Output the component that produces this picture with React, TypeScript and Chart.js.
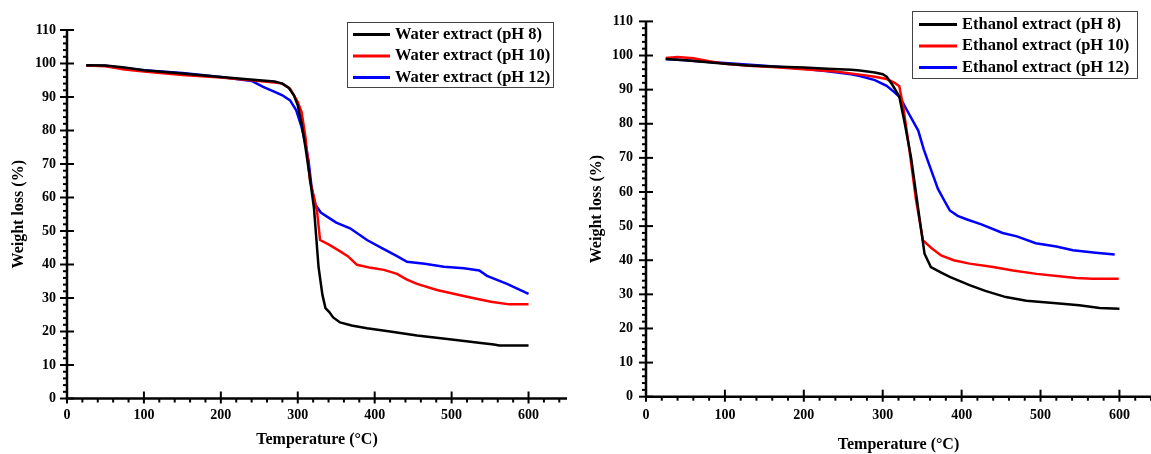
import React, { useEffect, useRef } from "react";
import { Chart, registerables } from "chart.js";

Chart.register(...registerables);

// ---------- data ----------
const xTicks = [0, 100, 200, 300, 400, 500, 600];
const yTicks = [0, 10, 20, 30, 40, 50, 60, 70, 80, 90, 100, 110];

const waterLabels = ["Water extract (pH 8)", "Water extract (pH 10)", "Water extract (pH 12)"];
const ethanolLabels = ["Ethanol extract (pH 8)", "Ethanol extract (pH 10)", "Ethanol extract (pH 12)"];
const seriesColors = ["#000000", "#ff0000", "#0000ff"];

// Water extract pH 8
const waterTemp8 = [25, 50, 75, 100, 150, 200, 250, 270, 280, 288, 295, 300, 305, 310, 315, 321, 327, 332, 336, 341, 346, 355, 370, 390, 420, 455, 500, 538, 555, 562, 600];
const waterWeight8 = [99.5, 99.4, 98.8, 98, 97, 96, 95, 94.6, 94, 92.8, 90.5, 87.5, 82, 75, 67, 57, 39.3, 31, 27, 25.8, 24.2, 22.7, 21.8, 21, 20, 18.8, 17.6, 16.6, 16.1, 15.8, 15.8];
// Water extract pH 10
const waterTemp10 = [25, 50, 75, 100, 150, 200, 250, 270, 280, 290, 300, 305, 310, 316, 321, 325, 329, 340, 351, 365, 377, 395, 412, 429, 442, 455, 481, 520, 551, 575, 600];
const waterWeight10 = [99.4, 99.2, 98.2, 97.6, 96.6, 95.8, 94.8, 94.3, 94, 92.5, 88.5, 85.5, 78, 65, 60, 56, 47.3, 46, 44.5, 42.5, 39.9, 39, 38.4, 37.2, 35.5, 34.2, 32.4, 30.4, 28.9, 28.1, 28.1];
// Water extract pH 12
const waterTemp12 = [25, 50, 75, 100, 150, 200, 240, 255, 270, 280, 290, 298, 305, 310, 314, 318, 323, 330, 338, 350, 368, 390, 410, 429, 442, 465, 490, 516, 536, 546, 572, 600];
const waterWeight12 = [99.3, 99.3, 98.6, 98, 97.2, 96, 94.8, 93, 91.5, 90.5, 89, 86, 81, 76, 71, 63, 57.8, 55.5, 54.3, 52.5, 50.8, 47.3, 44.8, 42.5, 40.8, 40.2, 39.3, 38.9, 38.2, 36.6, 34.2, 31.2];

// Ethanol extract pH 8
const ethanolTemp8 = [25, 50, 75, 100, 130, 160, 200, 230, 260, 271, 290, 300, 305, 312, 321, 328, 336, 342, 347, 353, 361, 373, 385, 410, 430, 456, 482, 520, 549, 575, 600];
const ethanolWeight8 = [99, 98.6, 98.1, 97.6, 97.1, 96.8, 96.5, 96.1, 95.8, 95.6, 95, 94.5, 93.8, 91.5, 88, 80, 70, 60, 51.7, 41.9, 38, 36.5, 35.1, 32.7, 31, 29.2, 28.1, 27.4, 26.8, 26, 25.8];
// Ethanol extract pH 10
const ethanolTemp10 = [25, 40, 60, 80, 100, 130, 160, 200, 240, 271, 290, 305, 315, 321, 326, 334, 342, 351, 362, 374, 390, 410, 440, 465, 495, 524, 545, 566, 599];
const ethanolWeight10 = [99.3, 99.6, 99.2, 98.3, 97.6, 97, 96.6, 96, 95.3, 94.4, 93.8, 93.1, 92, 91, 85, 72.1, 58, 45.8, 43.5, 41.4, 40, 39, 38, 37, 36, 35.3, 34.8, 34.6, 34.6];
// Ethanol extract pH 12
const ethanolTemp12 = [25, 50, 75, 100, 150, 200, 230, 260, 271, 290, 305, 315, 322, 333, 345, 352, 360, 370, 378, 385, 395, 406, 425, 452, 470, 494, 520, 541, 570, 594];
const ethanolWeight12 = [99, 98.6, 98.2, 97.8, 97, 96.1, 95.4, 94.5, 94, 92.8, 91.1, 89.2, 87.7, 83, 78, 72.5, 67.3, 60.9, 57.5, 54.6, 53, 52, 50.5, 48, 47, 45, 44, 42.9, 42.2, 41.7];

const xTitle = "Temperature (°C)";
const yTitle = "Weight loss (%)";

// ---------- chart ----------
const FONT = "'Liberation Serif', 'Times New Roman', Times, serif";

type Series = { t: number[]; w: number[] };
type Geom = {
  width: number;
  height: number;
  yWidth: number;
  padTop: number;
  padRight: number;
  xHeight: number;
  xTickPad: number;
  yTickPad: number;
  xTitlePad: number;
  yTitlePad: number;
  legend: { x: number; y: number; w: number; h: number; rows: number[]; line0: number; line1: number; textX: number };
};

function TgaChart(props: { series: Series[]; names: string[]; xMax: number; geom: Geom; left: number }) {
  const { series, names, xMax, geom, left } = props;
  const ref = useRef<HTMLCanvasElement>(null);

  useEffect(() => {
    const canvas = ref.current!;
    const datasets = series.map((s, i) => ({
      label: names[i],
      data: s.t.map((t, j) => ({ x: t, y: s.w[j] })),
      borderColor: seriesColors[i],
      backgroundColor: seriesColors[i],
      borderWidth: 2.5,
      pointRadius: 0,
      pointHoverRadius: 0,
      tension: 0,
      fill: false,
    }));

    const frame = {
      id: "frame",
      afterDatasetsDraw(chart: any) {
        const { ctx, chartArea: ca, scales } = chart;
        const xs = scales.x;
        const ys = scales.y;
        ctx.save();
        ctx.strokeStyle = "#000";
        ctx.lineCap = "butt";
        // minor ticks
        ctx.lineWidth = 2;
        for (let v = 20; v <= xMax + 1e-6; v += 20) {
          if (v % 100 === 0) continue;
          const px = xs.getPixelForValue(v);
          ctx.beginPath();
          ctx.moveTo(px, ca.bottom);
          ctx.lineTo(px, ca.bottom + 4);
          ctx.stroke();
        }
        for (let v = 2; v <= 110; v += 2) {
          if (v % 10 === 0) continue;
          const py = ys.getPixelForValue(v);
          ctx.beginPath();
          ctx.moveTo(ca.left - 4, py);
          ctx.lineTo(ca.left, py);
          ctx.stroke();
        }
        // major ticks
        ctx.lineWidth = 2;
        xTicks.forEach((v) => {
          const px = xs.getPixelForValue(v);
          ctx.beginPath();
          ctx.moveTo(px, ca.bottom - 7);
          ctx.lineTo(px, ca.bottom + 5);
          ctx.stroke();
        });
        yTicks.forEach((v) => {
          const py = ys.getPixelForValue(v);
          ctx.beginPath();
          ctx.moveTo(ca.left - 7, py);
          ctx.lineTo(ca.left + 7, py);
          ctx.stroke();
        });
        // axis lines
        ctx.lineWidth = 2.5;
        ctx.beginPath();
        ctx.moveTo(ca.left, ca.top);
        ctx.lineTo(ca.left, ca.bottom);
        ctx.lineTo(ca.right, ca.bottom);
        ctx.stroke();

        // legend
        const g = geom.legend;
        ctx.fillStyle = "#fff";
        ctx.fillRect(g.x, g.y, g.w, g.h);
        ctx.lineWidth = 1;
        ctx.strokeStyle = "#444";
        ctx.strokeRect(g.x + 0.5, g.y + 0.5, g.w, g.h);
        ctx.font = `bold 16.5px ${FONT}`;
        ctx.textBaseline = "middle";
        ctx.textAlign = "left";
        names.forEach((n, i) => {
          const ry = g.rows[i];
          ctx.strokeStyle = seriesColors[i];
          ctx.lineWidth = 3;
          ctx.beginPath();
          ctx.moveTo(g.line0, ry);
          ctx.lineTo(g.line1, ry);
          ctx.stroke();
          ctx.fillStyle = "#000";
          ctx.fillText(n, g.textX, ry);
        });
        ctx.restore();
      },
    };

    const tickFont = { family: FONT, size: 14, weight: "bold" as const };
    const titleFont = { family: FONT, size: 16, weight: "bold" as const };

    const chart = new Chart(canvas, {
      type: "line",
      data: { datasets },
      options: {
        responsive: false,
        animation: false,
        layout: { padding: { left: 0, right: geom.padRight, top: geom.padTop, bottom: 0 } },
        plugins: { legend: { display: false }, tooltip: { enabled: false }, title: { display: false } },
        scales: {
          x: {
            type: "linear",
            min: 0,
            max: xMax,
            grid: { display: false, drawTicks: false },
            border: { display: false },
            afterBuildTicks: (s: any) => {
              s.ticks = xTicks.map((v) => ({ value: v }));
            },
            afterFit: (s: any) => {
              s.height = geom.xHeight;
            },
            ticks: { color: "#000", font: tickFont, padding: geom.xTickPad, maxRotation: 0, autoSkip: false },
            title: { display: true, text: xTitle, color: "#000", font: titleFont, padding: { top: 0, bottom: geom.xTitlePad } },
          },
          y: {
            type: "linear",
            min: 0,
            max: 110,
            grid: { display: false, drawTicks: false },
            border: { display: false },
            afterBuildTicks: (s: any) => {
              s.ticks = yTicks.map((v) => ({ value: v }));
            },
            afterFit: (s: any) => {
              s.width = geom.yWidth;
            },
            ticks: { color: "#000", font: tickFont, padding: geom.yTickPad, autoSkip: false },
            title: { display: true, text: yTitle, color: "#000", font: titleFont, padding: { top: geom.yTitlePad, bottom: 0 } },
          },
        },
      } as any,
      plugins: [frame],
    });
    return () => chart.destroy();
  }, []);

  return (
    <canvas
      ref={ref}
      width={geom.width}
      height={geom.height}
      style={{ position: "absolute", left, top: 0, width: geom.width, height: geom.height, display: "block" }}
    />
  );
}

const leftGeom: Geom = {
  width: 575,
  height: 454,
  yWidth: 67,
  padTop: 30,
  padRight: 8,
  xHeight: 55.5,
  xTickPad: 8.2,
  yTickPad: 11,
  xTitlePad: 4.4,
  yTitlePad: 9.4,
  legend: { x: 347, y: 22, w: 206, h: 65, rows: [34.5, 56, 77.5], line0: 353, line1: 390, textX: 395 },
};

const rightGeom: Geom = {
  width: 576,
  height: 454,
  yWidth: 71,
  padTop: 20.5,
  padRight: 0,
  xHeight: 57.3,
  xTickPad: 10,
  yTickPad: 13,
  xTitlePad: 0,
  yTitlePad: 12.4,
  legend: { x: 337, y: 11, w: 225, h: 67, rows: [24.5, 46, 67.5], line0: 344, line1: 382, textX: 387 },
};

export default function App() {
  const waterSeries: Series[] = [
    { t: waterTemp8, w: waterWeight8 },
    { t: waterTemp10, w: waterWeight10 },
    { t: waterTemp12, w: waterWeight12 },
  ];
  const ethanolSeries: Series[] = [
    { t: ethanolTemp8, w: ethanolWeight8 },
    { t: ethanolTemp10, w: ethanolWeight10 },
    { t: ethanolTemp12, w: ethanolWeight12 },
  ];
  return (
    <div style={{ position: "fixed", left: 0, top: 0, width: 1151, height: 454, background: "#fff", overflow: "hidden" }}>
      <TgaChart series={waterSeries} names={waterLabels} xMax={650} geom={leftGeom} left={0} />
      <TgaChart series={ethanolSeries} names={ethanolLabels} xMax={640} geom={rightGeom} left={575} />
    </div>
  );
}
